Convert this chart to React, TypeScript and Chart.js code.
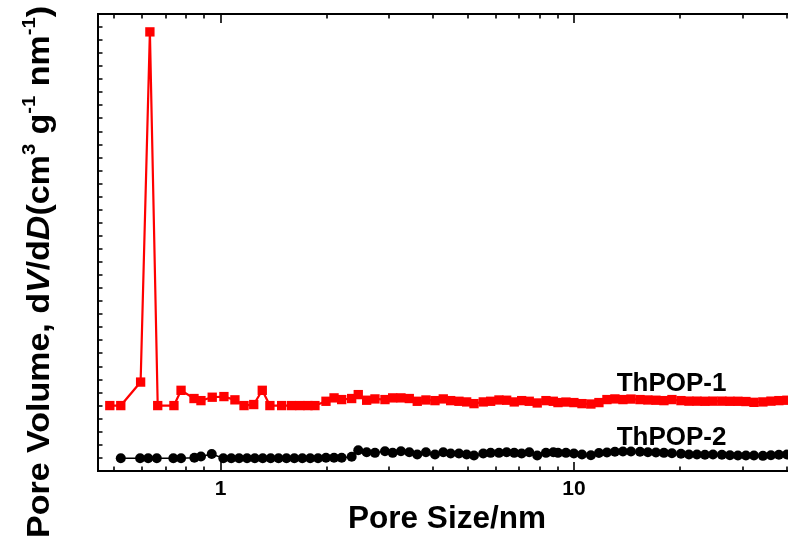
import React, { useEffect, useRef } from "react";
import { Chart, registerables } from "chart.js";
Chart.register(...registerables);

// ThPOP-1 (red squares)
const poreSizeThPOP1 = [
  0.486, 0.522, 0.594, 0.631, 0.664, 0.738, 0.773, 0.841, 0.88, 0.947, 1.022, 1.098, 1.165, 1.241, 1.312, 1.379,
  1.489, 1.589, 1.677, 1.767, 1.849,
  1.987, 2.094, 2.201, 2.349, 2.452, 2.59, 2.734, 2.918, 3.068, 3.238, 3.419, 3.601, 3.811, 4.042, 4.266, 4.477,
  4.725, 4.968, 5.211, 5.535, 5.808, 6.132, 6.447, 6.773, 7.108, 7.469, 7.867, 8.328, 8.736,
  9.006, 9.487, 9.99, 10.53, 11.16, 11.76, 12.39, 13.05, 13.75, 14.49, 15.37, 16.18, 17.05, 17.96, 18.92, 20.07,
  21.14, 22.27, 23.46, 24.72, 26.2, 27.61, 29.08, 30.64, 32.28, 34.22, 36.06, 37.98, 40.02,
];
const dVdDThPOP1 = [
  5.01, 5.01, 6.81, 33.63, 5.01, 5.01, 6.18, 5.55, 5.39, 5.65, 5.7, 5.45, 5.01, 5.09, 6.18, 5.01,
  5.01, 5.01, 5.01, 5.01, 5.01,
  5.34, 5.6, 5.47, 5.55, 5.85, 5.42, 5.52, 5.47, 5.6, 5.6, 5.55, 5.34, 5.44, 5.39, 5.52, 5.39,
  5.34, 5.29, 5.16, 5.29, 5.34, 5.44, 5.42, 5.29, 5.39, 5.34, 5.21, 5.39, 5.34,
  5.24, 5.28, 5.24, 5.16, 5.13, 5.24, 5.47, 5.52, 5.47, 5.51, 5.47, 5.44, 5.42, 5.39, 5.47, 5.39,
  5.35, 5.35, 5.34, 5.35, 5.35, 5.34, 5.34, 5.32, 5.26, 5.29, 5.35, 5.39, 5.42,
];

// ThPOP-2 (black circles)
const poreSizeThPOP2 = [
  0.522, 0.592, 0.624, 0.66, 0.735, 0.773, 0.843, 0.88, 0.944, 1.018, 1.072, 1.128, 1.188, 1.25, 1.316, 1.386,
  1.459, 1.536, 1.617, 1.703, 1.793, 1.887,
  1.987, 2.094, 2.201, 2.349, 2.452, 2.59, 2.734, 2.918, 3.068, 3.238, 3.419, 3.601, 3.811, 4.042, 4.266, 4.477,
  4.725, 4.968, 5.211, 5.535, 5.808, 6.132, 6.447, 6.773, 7.108, 7.469, 7.867, 8.328, 8.736,
  9.006, 9.487, 9.99, 10.53, 11.16, 11.76, 12.39, 13.05, 13.75, 14.49, 15.37, 16.18, 17.05, 17.96, 18.92, 20.07,
  21.14, 22.27, 23.46, 24.72, 26.2, 27.61, 29.08, 30.64, 32.28, 34.22, 36.06, 37.98, 40.02,
];
const dVdDThPOP2 = [
  0.98, 0.98, 0.98, 0.98, 0.98, 0.98, 1.01, 1.11, 1.3, 0.98, 0.98, 0.98, 0.98, 0.98, 0.98, 0.98,
  0.98, 0.98, 0.98, 0.98, 0.98, 0.98,
  1.01, 1.01, 1.01, 1.09, 1.59, 1.44, 1.39, 1.51, 1.39, 1.51, 1.44, 1.26, 1.44, 1.26, 1.44, 1.34,
  1.34, 1.26, 1.19, 1.34, 1.39, 1.39, 1.44, 1.39, 1.34, 1.44, 1.19, 1.39, 1.44,
  1.39, 1.39, 1.34, 1.26, 1.21, 1.38, 1.42, 1.47, 1.49, 1.49, 1.47, 1.44, 1.42, 1.39, 1.36, 1.32,
  1.26, 1.26, 1.24, 1.26, 1.24, 1.21, 1.19, 1.19, 1.19, 1.16, 1.21, 1.24, 1.26,
];

const seriesNames = ["ThPOP-1", "ThPOP-2"];
const xMajorTicks = [1, 10];
const xTickLabels = ["1", "10"];
const xMinorTicks = [0.5, 0.6, 0.7, 0.8, 0.9, 2, 3, 4, 5, 6, 7, 8, 9, 20, 30, 40];
const yTickValues = Array.from({ length: 34 }, (_, i) => i + 1);
const xTitle = "Pore Size/nm";
const yTitleParts = [
  { t: "Pore Volume, d" },
  { t: "V", i: true },
  { t: "/d" },
  { t: "D", i: true },
  { t: "(cm" },
  { t: "3", sup: true },
  { t: " g" },
  { t: "-1", sup: true },
  { t: " nm" },
  { t: "-1", sup: true },
  { t: ")" },
];

const FONT = '"Liberation Sans", Arial, Helvetica, sans-serif';

const decorPlugin = {
  id: "decor",
  afterDraw(chart: any) {
    const { ctx, chartArea: a, scales } = chart;
    const xs = scales.x;
    const ys = scales.y;
    ctx.save();
    ctx.strokeStyle = "#000";
    ctx.fillStyle = "#000";
    // frame (left, top, bottom)
    ctx.lineWidth = 2;
    ctx.beginPath();
    ctx.moveTo(a.left, a.bottom + 1);
    ctx.lineTo(a.left, a.top - 1);
    ctx.moveTo(a.left - 1, a.top);
    ctx.lineTo(a.right + 2, a.top);
    ctx.moveTo(a.left - 1, a.bottom);
    ctx.lineTo(a.right + 2, a.bottom);
    ctx.stroke();

    // x ticks (inward, top and bottom)
    ctx.lineWidth = 1.6;
    ctx.beginPath();
    const xTick = (v: number, len: number) => {
      const px = Math.round(xs.getPixelForValue(v));
      ctx.moveTo(px, a.bottom);
      ctx.lineTo(px, a.bottom - len);
      ctx.moveTo(px, a.top);
      ctx.lineTo(px, a.top + len);
    };
    xMajorTicks.forEach((v) => xTick(v, 9));
    xMinorTicks.forEach((v) => xTick(v, 4.5));
    // y ticks (inward, left)
    yTickValues.forEach((v) => {
      const py = Math.round(ys.getPixelForValue(v));
      ctx.moveTo(a.left, py);
      ctx.lineTo(a.left + 4.5, py);
    });
    ctx.stroke();

    // x tick labels
    ctx.font = `bold 21px ${FONT}`;
    ctx.textAlign = "center";
    ctx.textBaseline = "alphabetic";
    xMajorTicks.forEach((v, i) => {
      ctx.fillText(xTickLabels[i], xs.getPixelForValue(v), 495);
    });

    // x title
    ctx.font = `bold 31.5px ${FONT}`;
    ctx.fillText(xTitle, 447, 528);

    // series labels
    ctx.font = `bold 26px ${FONT}`;
    ctx.textAlign = "left";
    ctx.fillText(seriesNames[0], xs.getPixelForValue(13.2), ys.getPixelForValue(6.13));
    ctx.fillText(seriesNames[1], xs.getPixelForValue(13.2), ys.getPixelForValue(1.99));

    // y title (rotated, rich text)
    const fs = 32;
    const supFs = 19;
    const fontFor = (p: any) =>
      p.sup ? `bold ${supFs}px ${FONT}` : p.i ? `italic bold ${fs}px ${FONT}` : `bold ${fs}px ${FONT}`;
    let total = 0;
    const widths = yTitleParts.map((p) => {
      ctx.font = fontFor(p);
      const w = ctx.measureText(p.t).width;
      total += w;
      return w;
    });
    const target = 532;
    ctx.translate(49, 538);
    ctx.rotate(-Math.PI / 2);
    ctx.scale(target / total, 1);
    ctx.textAlign = "left";
    let x = 0;
    yTitleParts.forEach((p: any, i) => {
      ctx.font = fontFor(p);
      ctx.fillText(p.t, x, p.sup ? -14 : 0);
      x += widths[i];
    });
    ctx.restore();
  },
};

export default function App() {
  const ref = useRef<HTMLCanvasElement>(null);
  useEffect(() => {
    const canvas = ref.current!;
    const chart = new Chart(canvas, {
      type: "scatter",
      data: {
        datasets: [
          {
            label: seriesNames[0],
            data: poreSizeThPOP1.map((x, i) => ({ x, y: dVdDThPOP1[i] })),
            showLine: true,
            borderColor: "#ff0000",
            backgroundColor: "#ff0000",
            borderWidth: 2.2,
            pointStyle: "rect",
            pointRadius: 6.6,
            pointBorderWidth: 0,
            pointHoverRadius: 6.6,
            tension: 0,
          },
          {
            label: seriesNames[1],
            data: poreSizeThPOP2.map((x, i) => ({ x, y: dVdDThPOP2[i] })),
            showLine: true,
            borderColor: "#000000",
            backgroundColor: "#000000",
            borderWidth: 1.5,
            pointStyle: "circle",
            pointRadius: 5,
            pointBorderWidth: 0,
            pointHoverRadius: 5,
            tension: 0,
          },
        ],
      },
      options: {
        responsive: false,
        animation: false,
        devicePixelRatio: 1,
        layout: { autoPadding: false, padding: { left: 98, top: 14, right: 0, bottom: 74 } },
        plugins: { legend: { display: false }, tooltip: { enabled: false } },
        scales: {
          x: { type: "logarithmic", min: 0.45, max: 40.3, display: false },
          y: { type: "linear", min: 0, max: 35, display: false },
        },
      },
      plugins: [decorPlugin],
    });
    return () => chart.destroy();
  }, []);
  return (
    <div style={{ position: "fixed", left: 0, top: 0, width: 788, height: 545, background: "#fff" }}>
      <canvas ref={ref} width={788} height={545} style={{ width: 788, height: 545, display: "block" }} />
    </div>
  );
}
